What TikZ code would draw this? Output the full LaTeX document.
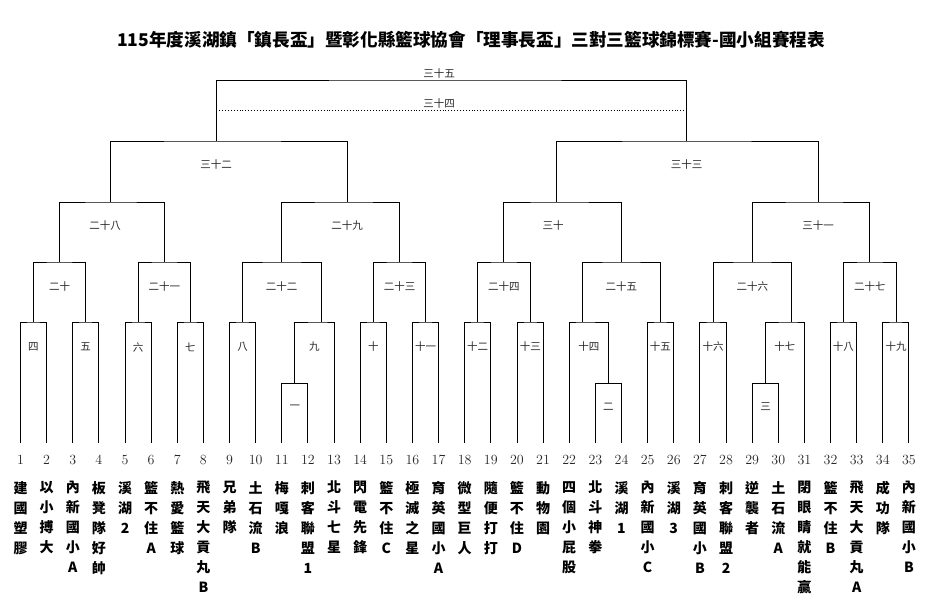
\documentclass[tikz,border=0pt]{standalone}
\usepackage{fontspec}
\newfontfamily\cjk{Noto Sans CJK TC}
\usepackage{tikz}

\newcommand\vnm[1]{\ifx#1\relax\else\hbox to 0pt{\hss#1\hss}\expandafter\vnm\fi}
\newcommand\vname[1]{\vbox{\baselineskip=20pt\vnm#1\relax}}

\begin{document}
\begin{tikzpicture}[x=1pt,y=-1pt,
	line/.style={black,line width=0.9pt},
	lbl/.style={font=\cjk\fontsize{10.5}{10.5}\selectfont,text=black!85,inner sep=0pt},
	num/.style={font=\fontsize{14}{14}\selectfont,text=black!85,inner sep=0pt},
	team/.style={font=\cjk\bfseries\fontsize{14}{14}\selectfont,inner sep=0pt,anchor=north}]

\useasboundingbox (0,0) rectangle (933,614);

\node (title) at (471,40) {\cjk\bfseries\fontsize{17.6}{17.6}\selectfont 115年度溪湖鎮「鎮長盃」暨彰化縣籃球協會「理事長盃」三對三籃球錦標賽-國小組賽程表};

\foreach \i/\nm in {1/建國塑膠,2/以小搏大,3/內新國小A,4/板凳隊好帥,5/溪湖2,6/籃不住A,7/熱愛籃球,8/飛天大貢丸B,9/兄弟隊,10/土石流B,11/梅嘎浪,12/刺客聯盟1,13/北斗七星,14/閃電先鋒,15/籃不住C,16/極滅之星,17/育英國小A,18/微型巨人,19/隨便打打,20/籃不住D,21/動物園,22/四個小屁股,23/北斗神拳,24/溪湖1,25/內新國小C,26/溪湖3,27/育英國小B,28/刺客聯盟2,29/逆襲者,30/土石流A,31/閉眼睛就能贏,32/籃不住B,33/飛天大貢丸A,34/成功隊,35/內新國小B}{
	\coordinate (l\i) at ({20.5+26.13*(\i-1)},443);
	\node[num] (n\i) at ({20.5+26.13*(\i-1)},460) {\i};
	\node[team] (t\i) at ({20.5+26.13*(\i-1)},481) {\expandafter\vname\expandafter{\nm}};
}

\coordinate (m1) at (294.8,383);
\coordinate (m2) at (608.3,383);
\coordinate (m3) at (765.7,383);
\foreach \m/\x in {4/33.3,5/85.7,6/138.3,7/190.3,8/242.3,9/321,10/373.3,11/425.7,12/477.3,13/530.3,14/582.3,15/660.3,16/713.3,17/791.3,18/843.3,19/896.3}
	\coordinate (m\m) at (\x,322);
\foreach \m/\x in {20/59.5,21/164.3,22/281.7,23/399.5,24/503.8,25/621.3,26/752.3,27/869.8}
	\coordinate (m\m) at (\x,262);
\foreach \m/\x in {28/110,29/347.3,30/556.7,31/818}
	\coordinate (m\m) at (\x,202);
\coordinate (m32) at (216.3,141);
\coordinate (m33) at (686.3,141);
\coordinate (m35) at (439,80);
\coordinate (a34) at (216.3,110);
\coordinate (b34) at (686.3,110);

\draw[line] (l11) |- (m1) -| (l12);
\draw[line] (l23) |- (m2) -| (l24);
\draw[line] (l29) |- (m3) -| (l30);

\draw[line] (l1) |- (m4) -| (l2);
\draw[line] (l3) |- (m5) -| (l4);
\draw[line] (l5) |- (m6) -| (l6);
\draw[line] (l7) |- (m7) -| (l8);
\draw[line] (l9) |- (m8) -| (l10);
\draw[line] (m1) |- (m9) -| (l13);
\draw[line] (l14) |- (m10) -| (l15);
\draw[line] (l16) |- (m11) -| (l17);
\draw[line] (l18) |- (m12) -| (l19);
\draw[line] (l20) |- (m13) -| (l21);
\draw[line] (l22) |- (m14) -| (m2);
\draw[line] (l25) |- (m15) -| (l26);
\draw[line] (l27) |- (m16) -| (l28);
\draw[line] (m3) |- (m17) -| (l31);
\draw[line] (l32) |- (m18) -| (l33);
\draw[line] (l34) |- (m19) -| (l35);

\draw[line] (m4) |- (m20) -| (m5);
\draw[line] (m6) |- (m21) -| (m7);
\draw[line] (m8) |- (m22) -| (m9);
\draw[line] (m10) |- (m23) -| (m11);
\draw[line] (m12) |- (m24) -| (m13);
\draw[line] (m14) |- (m25) -| (m15);
\draw[line] (m16) |- (m26) -| (m17);
\draw[line] (m18) |- (m27) -| (m19);

\draw[line] (m20) |- (m28) -| (m21);
\draw[line] (m22) |- (m29) -| (m23);
\draw[line] (m24) |- (m30) -| (m25);
\draw[line] (m26) |- (m31) -| (m27);

\draw[line] (m28) |- (m32) -| (m29);
\draw[line] (m30) |- (m33) -| (m31);
\draw[line] (m32) |- (m35) -| (m33);
\draw[black,line width=0.9pt,dotted] (a34) -- (b34);

\node[lbl] (k1) at (294.8,407) {一};
\node[lbl] (k2) at (608.3,407) {二};
\node[lbl] (k3) at (765.7,407) {三};
\foreach \m/\x/\s in {4/33.3/四,5/85.7/五,6/138/六,7/190.3/七,8/242.5/八,9/314.3/九,10/373.3/十,11/425.5/十一,12/477.5/十二,13/530.3/十三,14/588.8/十四,15/660.3/十五,16/713/十六,17/784.8/十七,18/843.3/十八,19/896/十九}
	\node[lbl] (k\m) at (\x,347) {\s};
\foreach \m/\x/\s in {20/59.5/二十,21/164.3/二十一,22/281.7/二十二,23/399.5/二十三,24/503.8/二十四,25/621.3/二十五,26/752.3/二十六,27/869.8/二十七}
	\node[lbl] (k\m) at (\x,287) {\s};
\foreach \m/\x/\s in {28/105/二十八,29/347/二十九,30/553/三十,31/818/三十一}
	\node[lbl] (k\m) at (\x,226) {\s};
\node[lbl] (k32) at (216,165) {三十二};
\node[lbl] (k33) at (686.5,165) {三十三};
\node[lbl] (k34) at (439,104) {三十四};
\node[lbl] (k35) at (439,74) {三十五};

\end{tikzpicture}
\end{document}
